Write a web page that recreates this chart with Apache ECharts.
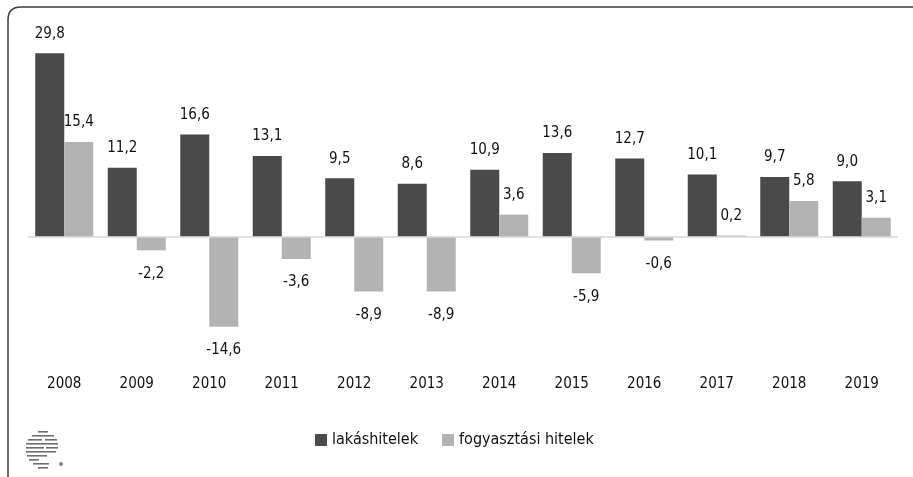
<!DOCTYPE html>
<html><head><meta charset="utf-8">
<script src="https://cdn.jsdelivr.net/npm/echarts@6/dist/echarts.min.js"></script>
<style>html,body{margin:0;padding:0;background:#fff}#c{width:913px;height:477px}</style>
</head><body><div id="c"></div>
<script>
var categories = ['2008','2009','2010','2011','2012','2013','2014','2015','2016','2017','2018','2019'];
var lakas = [29.8, 11.2, 16.6, 13.1, 9.5, 8.6, 10.9, 13.6, 12.7, 10.1, 9.7, 9.0];
var fogy = [15.4, -2.2, -14.6, -3.6, -8.9, -8.9, 3.6, -5.9, -0.6, 0.2, 5.8, 3.1];
var seriesNames = ['lakáshitelek', 'fogyasztási hitelek'];

var FONT = '"Liberation Sans Narrow","DejaVu Sans Condensed","Roboto Condensed",sans-serif';
function fmt(v){ return v.toFixed(1).replace('.', ','); }
function items(arr){
  return arr.map(function(v){
    return {value: v, label: v < 0 ? {position: 'bottom', distance: 16} : {position: 'top', distance: 12}};
  });
}
var labelStyle = {show: true, fontFamily: FONT, fontSize: 15, color: '#111', formatter: function(p){ return fmt(p.value); }};

var logo = [];
var stripes = [[38,431,10],[32,435,22],[28,439,14],[45,439,12],[26,443,32],[26,447,18],[46,447,12],[26,451,30],[27,455,20],[29,459,10],[33,463,16],[38,467,10]];
stripes.forEach(function(s){
  logo.push({type:'rect', shape:{x:s[0], y:s[1], width:s[2], height:1.6}, style:{fill:'#707070'}});
});
logo.push({type:'circle', shape:{cx:61, cy:464, r:2}, style:{fill:'#888'}});

var frameStyle = {stroke: '#3a3a3a', lineWidth: 1.5, fill: 'none'};
var frame = [
  {type: 'line', shape: {x1: 8, y1: 20, x2: 8, y2: 477}, style: frameStyle},
  {type: 'line', shape: {x1: 21, y1: 7, x2: 913, y2: 7}, style: frameStyle},
  {type: 'bezierCurve', shape: {x1: 8, y1: 20, x2: 21, y2: 7, cpx1: 8, cpy1: 7}, style: frameStyle}
];

var chart = echarts.init(document.getElementById('c'));
chart.setOption({
  animation: false,
  grid: {left: 28, right: 15, top: 52, bottom: 117},
  legend: {
    data: seriesNames, left: 310, top: 427, itemWidth: 12, itemHeight: 12, itemGap: 24,
    icon: 'rect', textStyle: {fontFamily: FONT, fontSize: 16, color: '#111'}
  },
  xAxis: {
    type: 'category', data: categories,
    axisLine: {show: false, onZero: false}, axisTick: {show: false},
    axisLabel: {margin: 17, fontFamily: FONT, fontSize: 15, color: '#111'}
  },
  yAxis: {type: 'value', min: -20, max: 30, show: false, splitLine: {show: false}},
  graphic: frame.concat(logo),
  series: [
    {name: seriesNames[0], type: 'bar', data: items(lakas), barGap: '0%', barCategoryGap: '20%',
     itemStyle: {color: '#4a4a4a'}, label: labelStyle,
     markLine: {silent: true, symbol: 'none', label: {show: false}, lineStyle: {color: '#d9d9d9', type: 'solid', width: 1.5}, data: [{yAxis: 0}]}},
    {name: seriesNames[1], type: 'bar', data: items(fogy), barGap: '0%', barCategoryGap: '20%',
     itemStyle: {color: '#b3b3b3'}, label: labelStyle}
  ]
});
</script></body></html>
